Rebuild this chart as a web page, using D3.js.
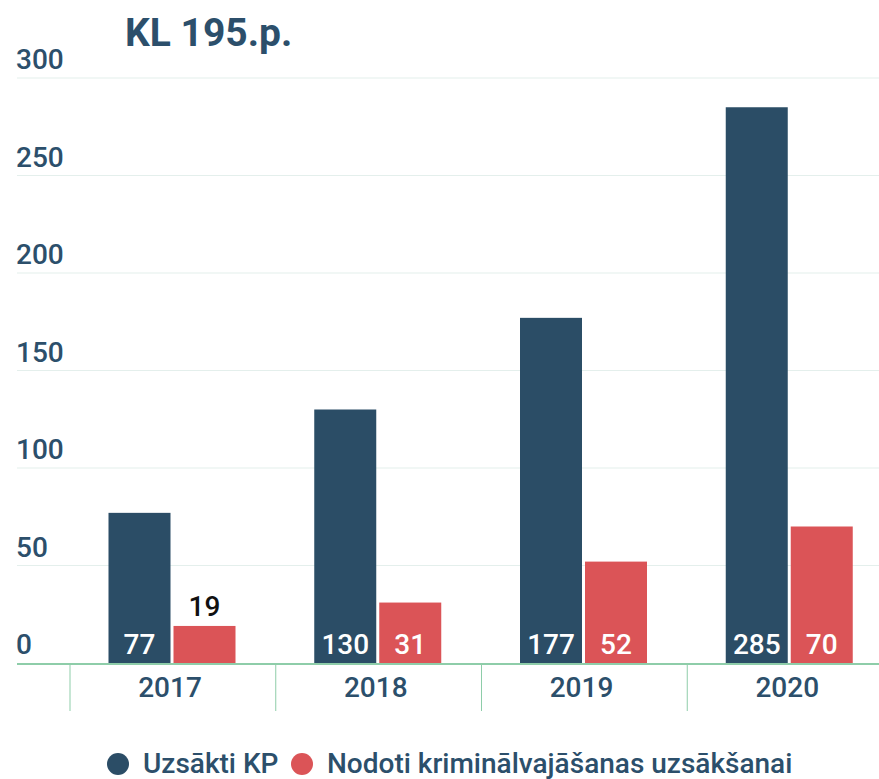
<!DOCTYPE html>
<html><head><meta charset="utf-8">
<script src="https://cdn.jsdelivr.net/npm/d3@7"></script>
<style>body{margin:0;background:#fff;font-family:Roboto,"Noto Sans",sans-serif;}</style>
</head><body><svg id="c" width="879" height="779"></svg>
<script>
const years = ["2017","2018","2019","2020"];
const started = [77,130,177,285];
const handed = [19,31,52,70];
const seriesNames = ["Uzsākti KP","Nodoti kriminālvajāšanas uzsākšanai"];
const yTicks = [0,50,100,150,200,250,300];
const colors = ["#2b4d66","#db5457"];
const textCol = "#2c4f6b";

const svg = d3.select("#c");
const y = d3.scaleLinear().domain([0,300]).range([663,78]);
const x = d3.scaleBand().domain(years).range([70,893]).paddingInner(0).paddingOuter(0);
const barW = 62, gap = 3;
const sub = d3.scaleBand().domain([0,1])
  .range([38.5, 38.5 + 2*barW + gap])
  .paddingInner(gap/(barW+gap)).paddingOuter(0);

svg.append("text").attr("x",125).attr("y",46).attr("fill",textCol)
  .attr("font-size",39).attr("font-weight",700).text("KL 195.p.");

// gridlines
svg.append("g").selectAll("line").data(yTicks.filter(d=>d>0)).join("line")
  .attr("x1",17).attr("x2",879).attr("y1",d=>y(d)).attr("y2",d=>y(d))
  .attr("stroke","#e4efec").attr("stroke-width",1.2);
svg.append("g").selectAll("text").data(yTicks).join("text")
  .attr("x",16).attr("y",d=>y(d)-9).attr("fill",textCol)
  .attr("font-size",28).attr("font-weight",500).text(d=>d);

const data = years.map((yr,i)=>({yr, vals:[started[i],handed[i]]}));
const g = svg.append("g").selectAll("g").data(data).join("g")
  .attr("transform",d=>`translate(${x(d.yr)},0)`);
g.selectAll("rect").data(d=>d.vals).join("rect")
  .attr("x",(d,i)=>sub(i)).attr("width",sub.bandwidth())
  .attr("y",d=>y(d)).attr("height",d=>y(0)-y(d)).attr("fill",(d,i)=>colors[i]);
g.selectAll("text").data(d=>d.vals).join("text")
  .attr("x",(d,i)=>sub(i)+sub.bandwidth()/2)
  .attr("y",d=> (y(0)-y(d))>45 ? 654 : y(d)-10)
  .attr("text-anchor","middle").attr("font-size",28).attr("font-weight",500)
  .attr("fill",d=> (y(0)-y(d))>45 ? "#fff" : "#111").text(d=>d);

// x axis
svg.append("line").attr("x1",17).attr("x2",879).attr("y1",y(0)+1).attr("y2",y(0)+1)
  .attr("stroke","#8ecda9").attr("stroke-width",2);
svg.append("g").selectAll("line").data(years).join("line")
  .attr("x1",d=>x(d)).attr("x2",d=>x(d))
  .attr("y1",y(0)+1).attr("y2",711).attr("stroke","#8ecda9").attr("stroke-width",1);
svg.append("g").selectAll("text").data(years).join("text")
  .attr("x",d=>x(d)+100).attr("y",697).attr("text-anchor","middle")
  .attr("fill",textCol).attr("font-size",28).attr("font-weight",500).text(d=>d);

// legend
const lx = [118,302];
seriesNames.forEach((n,i)=>{
  svg.append("circle").attr("cx",lx[i]).attr("cy",764).attr("r",11).attr("fill",colors[i]);
  svg.append("text").attr("x",lx[i]+25).attr("y",773).attr("fill",textCol)
    .attr("font-size",28).attr("font-weight",500).text(n);
});
</script></body></html>
